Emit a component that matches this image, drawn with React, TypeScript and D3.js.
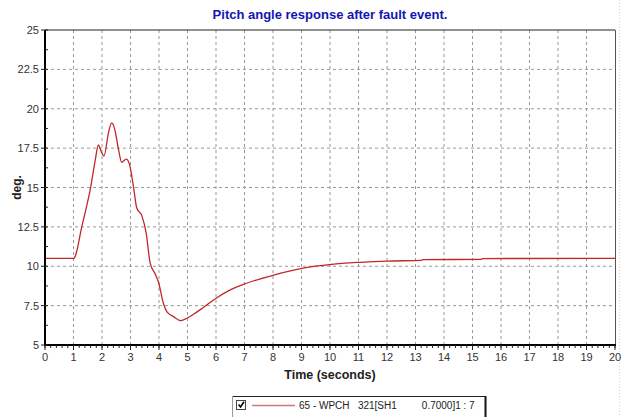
import React from "react";
import * as d3 from "d3";

const TITLE = "Pitch angle response after fault event.";
const X_LABEL = "Time (seconds)";
const Y_LABEL = "deg.";
const LEGEND_TEXT = "65 - WPCH   321[SH1         0.7000]1 : 7";

const xTicks = d3.range(0, 21, 1);
const yTicks = [5, 7.5, 10, 12.5, 15, 17.5, 20, 22.5, 25];

const timeVals = [0, 1.0, 1.05, 1.29, 1.46, 1.58, 1.76, 1.87, 1.97, 2.07, 2.23, 2.34, 2.46, 2.58, 2.69, 2.85, 2.96, 3.1, 3.22, 3.4, 3.55, 3.69, 3.87, 3.98, 4.16, 4.28, 4.51, 4.77, 4.98, 5.21, 5.57, 6.03, 6.5, 7.07, 8.05, 9.06, 10.05, 11.05, 12.0, 13.2, 13.25, 15.3, 15.35, 20];
const pitchVals = [10.5, 10.5, 10.6, 12.5, 13.8, 14.8, 16.7, 17.7, 17.3, 17.0, 18.5, 19.1, 18.6, 17.4, 16.6, 16.8, 16.5, 15.1, 13.7, 13.2, 12.1, 10.2, 9.5, 9.0, 7.6, 7.1, 6.8, 6.55, 6.7, 6.95, 7.4, 8.0, 8.5, 8.92, 9.45, 9.88, 10.12, 10.25, 10.33, 10.37, 10.42, 10.44, 10.49, 10.5];

const W = 622, H = 417;
const L = 45, R = 615, T = 30, B = 345;

export default function App() {
  const x = d3.scaleLinear().domain([0, 20]).range([L, R]);
  const y = d3.scaleLinear().domain([5, 25]).range([B, T]);
  const data = timeVals.map((t, i) => [t, pitchVals[i]] as [number, number]);
  const line = d3.line<[number, number]>().x(d => x(d[0])).y(d => y(d[1])).curve(d3.curveMonotoneX);
  const minorX = d3.range(0, 20.001, 0.2);
  const minorY = d3.range(5, 25.001, 1.25);
  const font = "'Liberation Sans', Arial, sans-serif";
  return (
    <svg width={W} height={H} style={{ position: "absolute", left: 0, top: 0, background: "#fff" }} fontFamily={font}>
      <rect x={0} y={0} width={W} height={H} fill="#fff" />
      <text x={(L + R) / 2} y={19} textAnchor="middle" fontSize={13} fontWeight="bold" fill="#1414b4">{TITLE}</text>
      {/* grid */}
      {xTicks.slice(1, -1).map(t => (
        <line key={"gx" + t} x1={x(t)} x2={x(t)} y1={T} y2={B} stroke="#999" strokeDasharray="3,3" strokeWidth={1} />
      ))}
      {yTicks.slice(1, -1).map(v => (
        <line key={"gy" + v} x1={L} x2={R} y1={y(v)} y2={y(v)} stroke="#999" strokeDasharray="3,3" strokeWidth={1} />
      ))}
      {/* frame */}
      <line x1={L} x2={R} y1={T} y2={T} stroke="#222" strokeWidth={1} />
      <line x1={R + 0.5} x2={R + 0.5} y1={T} y2={B} stroke="#555" strokeWidth={1} />
      <line x1={619.5} x2={619.5} y1={0} y2={H} stroke="#f3c8c8" strokeDasharray="1,2" strokeWidth={1} />
      {/* curve */}
      <path d={line(data) || ""} fill="none" stroke="#c02828" strokeWidth={1.3} />
      {/* axes */}
      <line x1={L} x2={L} y1={T} y2={B + 1} stroke="#000" strokeWidth={2} />
      <line x1={L - 1} x2={R + 1} y1={B} y2={B} stroke="#000" strokeWidth={2} />
      {minorY.map(v => (
        <line key={"my" + v} x1={L} x2={L + 3} y1={y(v)} y2={y(v)} stroke="#222" strokeWidth={1} />
      ))}
      {yTicks.map(v => (
        <g key={"ty" + v}>
          <line x1={L - 4} x2={L} y1={y(v)} y2={y(v)} stroke="#222" strokeWidth={1} />
          <text x={L - 6} y={y(v) + 4} textAnchor="end" fontSize={11} fill="#333">{v}</text>
        </g>
      ))}
      {minorX.map(t => (
        <line key={"mx" + t} x1={x(t)} x2={x(t)} y1={B} y2={B + 3} stroke="#222" strokeWidth={1} />
      ))}
      {xTicks.map(t => (
        <g key={"tx" + t}>
          <line x1={x(t)} x2={x(t)} y1={B} y2={B + 5} stroke="#222" strokeWidth={1} />
          <text x={x(t)} y={361} textAnchor="middle" fontSize={11} fill="#333">{t}</text>
        </g>
      ))}
      <text x={(L + R) / 2} y={379} textAnchor="middle" fontSize={12.5} fontWeight="bold" fill="#222">{X_LABEL}</text>
      <text transform={`translate(21,${(T + B) / 2}) rotate(-90)`} textAnchor="middle" fontSize={12} fontWeight="bold" fill="#222">{Y_LABEL}</text>
      {/* legend */}
      <g>
        <line x1={232} x2={486} y1={396.5} y2={396.5} stroke="#222" strokeWidth={1} />
        <line x1={232.5} x2={232.5} y1={396} y2={H} stroke="#999" strokeWidth={1} />
        <line x1={485.5} x2={485.5} y1={396} y2={H} stroke="#111" strokeWidth={2} />
        <rect x={236.5} y={400.5} width={9} height={9} fill="#fff" stroke="#444" strokeWidth={1} />
        <path d="M238.5,404.5 L240.5,407 L244,401.8" fill="none" stroke="#000" strokeWidth={1.6} />
        <line x1={252} x2={295} y1={405.5} y2={405.5} stroke="#c87878" strokeWidth={1.5} />
        <text x={299} y={409} fontSize={10} fill="#222" style={{ whiteSpace: "pre" }}>{LEGEND_TEXT}</text>
      </g>
    </svg>
  );
}
